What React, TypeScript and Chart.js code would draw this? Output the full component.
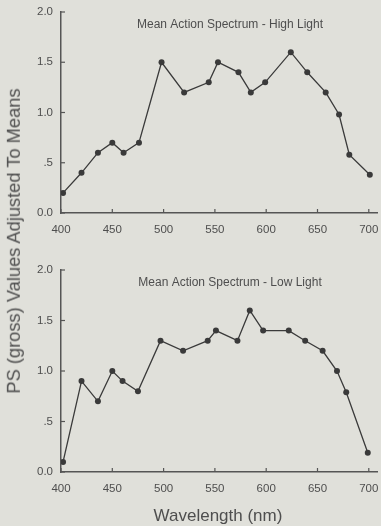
import React, { useEffect, useRef } from "react";
import { Chart, registerables } from "chart.js";

Chart.register(...registerables);

const highWavelengths = [402, 420, 436, 450, 461, 476, 498, 520, 544, 553, 573, 585, 599, 624, 640, 658, 671, 681, 701];
const highValues = [0.2, 0.4, 0.6, 0.7, 0.6, 0.7, 1.5, 1.2, 1.3, 1.5, 1.4, 1.2, 1.3, 1.6, 1.4, 1.2, 0.98, 0.58, 0.38];

const lowWavelengths = [402, 420, 436, 450, 460, 475, 497, 519, 543, 551, 572, 584, 597, 622, 638, 655, 669, 678, 699];
const lowValues = [0.1, 0.9, 0.7, 1.0, 0.9, 0.8, 1.3, 1.2, 1.3, 1.4, 1.3, 1.6, 1.4, 1.4, 1.3, 1.2, 1.0, 0.79, 0.19];

const xMin = 400;
const xMax = 708;
const xStep = 50;
const yMin = 0;
const yMax = 2;
const yStep = 0.5;
const yTickLabels: Record<string, string> = { "0": "0.0", "0.5": ".5", "1": "1.0", "1.5": "1.5", "2": "2.0" };

const highTitle = "Mean Action Spectrum - High Light";
const lowTitle = "Mean Action Spectrum - Low Light";
const yAxisTitle = "PS (gross) Values Adjusted To Means";
const xAxisTitle = "Wavelength (nm)";

const BG = "#e0e0da";
const INK = "#3a3a3a";
const TEXT = "#4e4e4e";
const FONT = "'Liberation Sans', Arial, Helvetica, sans-serif";

const innerTicksAndTitle = {
  id: "innerTicksAndTitle",
  afterDraw(chart: any, _args: any, opts: any) {
    const { ctx, chartArea, scales } = chart;
    ctx.save();
    ctx.strokeStyle = "#555";
    ctx.lineWidth = 1.2;
    const xs = scales.x;
    xs.ticks.forEach((t: any) => {
      const px = xs.getPixelForValue(t.value);
      ctx.beginPath();
      ctx.moveTo(px, chartArea.bottom);
      ctx.lineTo(px, chartArea.bottom - 4);
      ctx.stroke();
    });
    const ys = scales.y;
    ys.ticks.forEach((t: any) => {
      const py = ys.getPixelForValue(t.value);
      ctx.beginPath();
      ctx.moveTo(chartArea.left, py);
      ctx.lineTo(chartArea.left + 4, py);
      ctx.stroke();
    });
    ctx.fillStyle = TEXT;
    ctx.font = `12px ${FONT}`;
    ctx.textAlign = "center";
    ctx.textBaseline = "middle";
    ctx.fillText(opts.text, chartArea.left + 169, chartArea.top + 13);
    ctx.restore();
  },
};

function makeConfig(xs: number[], ys: number[], title: string, topPad: number): any {
  return {
    type: "line",
    data: {
      datasets: [
        {
          data: xs.map((x, i) => ({ x, y: ys[i] })),
          borderColor: INK,
          borderWidth: 1.3,
          pointRadius: 3,
          pointBackgroundColor: INK,
          pointBorderColor: INK,
          pointBorderWidth: 0,
          tension: 0,
          fill: false,
        },
      ],
    },
    options: {
      animation: false,
      responsive: false,
      maintainAspectRatio: false,
      layout: { padding: { left: 0, right: 0, top: topPad, bottom: 0 } },
      plugins: {
        legend: { display: false },
        tooltip: { enabled: false },
        title: { display: false },
        innerTicksAndTitle: { text: title },
      },
      scales: {
        x: {
          type: "linear",
          min: xMin,
          max: xMax,
          grid: { display: false, drawTicks: false },
          border: { display: true, color: "#555", width: 1.5 },
          ticks: {
            stepSize: xStep,
            includeBounds: false,
            padding: 10,
            color: TEXT,
            font: { family: FONT, size: 11.5 },
            maxRotation: 0,
            callback: (v: number) => String(v),
          },
          afterFit: (s: any) => {
            s.height = 32;
            s.paddingLeft = 0;
            s.paddingRight = 0;
          },
        },
        y: {
          type: "linear",
          min: yMin,
          max: yMax,
          grid: { display: false, drawTicks: false },
          border: { display: true, color: "#555", width: 1.5 },
          ticks: {
            stepSize: yStep,
            padding: 8,
            color: TEXT,
            font: { family: FONT, size: 11.5 },
            callback: (v: number) => yTickLabels[String(v)] ?? String(v),
          },
          afterFit: (s: any) => {
            s.width = 61;
            s.paddingTop = 0;
            s.paddingBottom = 0;
          },
        },
      },
    },
    plugins: [innerTicksAndTitle],
  };
}

function ChartCanvas(props: { xs: number[]; ys: number[]; title: string; top: number; height: number; topPad: number }) {
  const ref = useRef<HTMLCanvasElement | null>(null);
  useEffect(() => {
    if (!ref.current) return;
    const chart = new Chart(ref.current, makeConfig(props.xs, props.ys, props.title, props.topPad));
    return () => chart.destroy();
  }, []);
  return (
    <canvas
      ref={ref}
      width={381}
      height={props.height}
      style={{ position: "absolute", left: 0, top: props.top, width: 381, height: props.height }}
    />
  );
}

export default function App() {
  useEffect(() => {
    document.body.style.margin = "0";
    document.body.style.background = BG;
  }, []);
  return (
    <div style={{ position: "absolute", left: 0, top: 0, width: 381, height: 526, background: BG, overflow: "hidden", fontFamily: FONT }}>
      <ChartCanvas xs={highWavelengths} ys={highValues} title={highTitle} top={0} height={245} topPad={12} />
      <ChartCanvas xs={lowWavelengths} ys={lowValues} title={lowTitle} top={236} height={268} topPad={34} />
      <div
        style={{
          position: "absolute",
          left: 14,
          top: 241,
          transform: "translate(-50%, -50%) rotate(-90deg)",
          whiteSpace: "nowrap",
          fontSize: 18.3,
          color: TEXT,
          lineHeight: 1,
        }}
      >
        {yAxisTitle}
      </div>
      <div
        style={{
          position: "absolute",
          left: 218,
          top: 515,
          transform: "translate(-50%, -50%)",
          whiteSpace: "nowrap",
          fontSize: 17,
          color: TEXT,
          lineHeight: 1,
        }}
      >
        {xAxisTitle}
      </div>
    </div>
  );
}
